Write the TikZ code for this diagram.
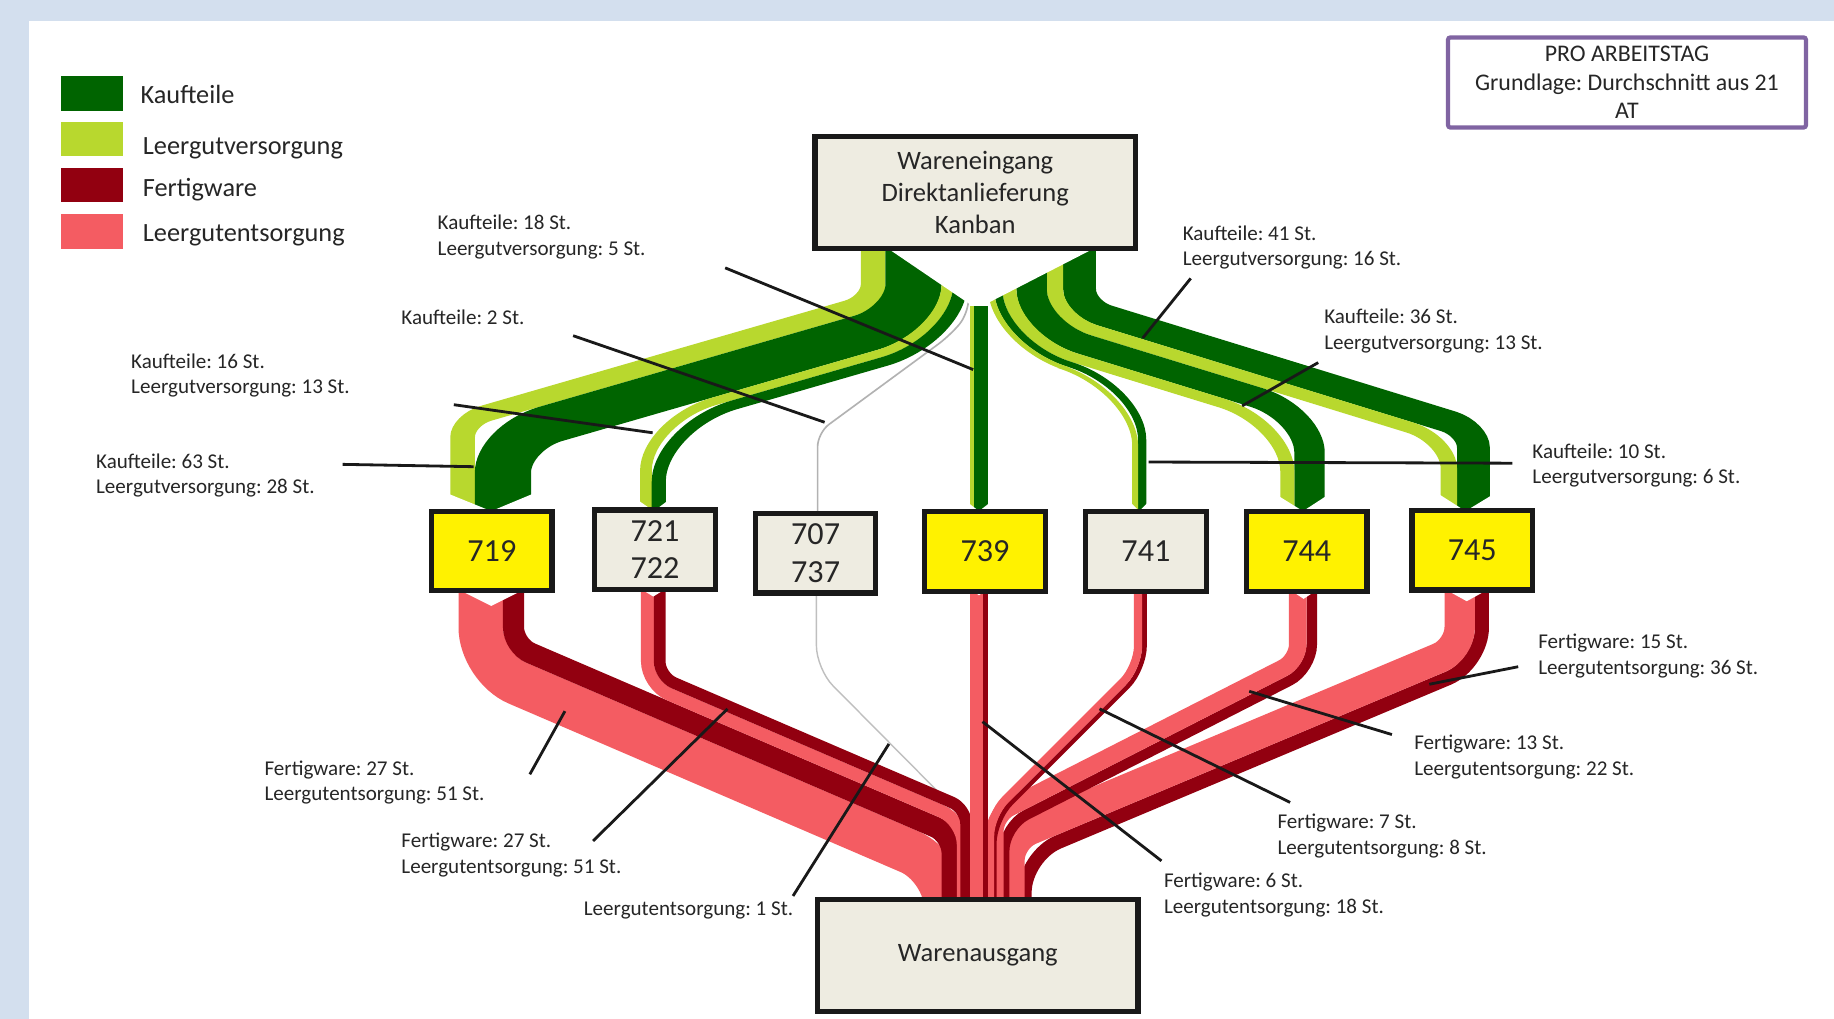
\documentclass[tikz,border=0pt]{standalone}
\usepackage{fontspec}
\setmainfont{Carlito}
\usepackage{xcolor}
\frenchspacing

\definecolor{kauf}{RGB}{0,100,0}
\definecolor{leerv}{RGB}{184,216,46}
\definecolor{fert}{RGB}{146,0,16}
\definecolor{leere}{RGB}{244,92,98}
\definecolor{bgblue}{RGB}{211,223,238}
\definecolor{boxfill}{RGB}{238,236,225}
\definecolor{lila}{RGB}{128,100,162}
\definecolor{txt}{RGB}{38,38,38}

\tikzset{
  kt/.style={draw=kauf},
  lv/.style={draw=leerv},
  fw/.style={draw=fert},
  le/.style={draw=leere},
  leader/.style={draw=black!90, line width=2.4pt},
  lab/.style={anchor=west, inner sep=0pt, align=left, text=txt, font=\fontsize{18}{22}\selectfont},
  station/.style={draw=black!90, line width=4.5pt, minimum width=103pt, minimum height=68pt, inner sep=0pt, align=center, text=txt, font=\fontsize{27.5}{32}\selectfont},
  lager/.style={draw=black!90, fill=boxfill, line width=4.5pt, minimum width=274pt, minimum height=96pt, inner sep=0pt, align=center, text=txt, font=\fontsize{22.7}{27}\selectfont},
  legtext/.style={anchor=base west, inner sep=0pt, text=txt, font=\fontsize{22.5}{27}\selectfont}
}

\begin{document}
\begin{tikzpicture}[x=1pt,y=1pt,yscale=-1,xscale=1]
\useasboundingbox (0,0) rectangle (1568,871);

% Background
\fill[bgblue] (0,0) rectangle (1568,871);
\fill[white] (25,18) rectangle (1568,871);

% Green flows (drawn narrow, stretched sideways)
\begin{scope}[transform canvas={xshift=835pt,xscale=1.5,xshift=-835pt}]
% 719
\draw[lv, line width=14pt] (776.0,212) [rounded corners=14.5pt] -- (776.0,257.69) -- (542.0,359.13) [rounded corners=35.5pt] -- (542.0,437);
\draw[kt, line width=32pt] (799.0,212) [rounded corners=29.6pt] -- (799.0,272.79) -- (565.0,374.23) [rounded corners=20.4pt] -- (565.0,437);
% 721 / 722
\draw[lv, line width=6.67pt] (818.33,212) [rounded corners=42.3pt] -- (818.33,285.48) -- (646.5,359.97) [rounded corners=17.3pt] -- (646.5,437);
\draw[kt, line width=8pt] (825.67,212) [rounded corners=47.1pt] -- (825.67,290.30) -- (653.8,364.80) [rounded corners=12.5pt] -- (653.8,437);
% 745
\draw[kt, line width=18.67pt] (893.67,212) [rounded corners=15.6pt] -- (893.67,263.13) -- (1118.13,366.83) [rounded corners=21.5pt] -- (1118.13,437);
\draw[lv, line width=9.33pt] (879.67,212) [rounded corners=24.5pt] -- (879.67,272.08) -- (1104.13,375.78) [rounded corners=12.6pt] -- (1104.13,437);
% 744
\draw[kt, line width=17.33pt] (866.33,212) [rounded corners=33.1pt] -- (866.33,280.60) -- (1024.73,353.79) [rounded corners=20.3pt] -- (1024.73,437);
\draw[lv, line width=8pt] (853.67,212) [rounded corners=41.2pt] -- (853.67,288.71) -- (1012.07,361.89) [rounded corners=12.2pt] -- (1012.07,437);
% 741
\draw[kt, line width=4.67pt] (847.33,212) [rounded corners=45.2pt] -- (847.33,292.76) -- (929.33,330.64) [rounded corners=13.2pt] -- (929.33,437);
\draw[lv, line width=3.33pt] (843.33,212) [rounded corners=47.8pt] -- (843.33,295.32) -- (925.33,333.20) [rounded corners=10.7pt] -- (925.33,437);
\end{scope}

% 707 / 737 (Kaufteile 2 St.)
\draw[draw=gray!60, line width=1.4pt, rounded corners=12pt] (828,240) -- (828,268) -- (812,287) -- (699,370) -- (699,437);

% notch under Wareneingang
\fill[white] (757,211) -- (835,264) -- (938,211) -- cycle;

% 739
\draw[lv, line width=4pt] (831,262) -- (831,437);
\draw[kt, line width=12pt] (839,262) -- (839,437);

% Red flows, right side
\draw[fw, line width=12pt] (1267,505) [rounded corners=31.2pt] -- (1267,567.71) -- (876,731.93) [rounded corners=18pt] -- (876,769);
\draw[le, line width=26pt] (1248,505) [rounded corners=18.6pt] -- (1248,555.08) -- (863,716.78) [rounded corners=18pt] -- (863,769);
\draw[fw, line width=9pt] (1121.5,505) [rounded corners=21.1pt] -- (1121.5,572.16) -- (858.5,706.3) [rounded corners=18pt] -- (858.5,769);
\draw[le, line width=15pt] (1109.5,505) [rounded corners=13.8pt] -- (1109.5,564.82) -- (850.5,696.92) [rounded corners=18pt] -- (850.5,769);
\draw[fw, line width=4pt] (978.5,505) [rounded corners=20.3pt] -- (978.5,572.45) -- (850,700.95) [rounded corners=18pt] -- (850,769);
\draw[le, line width=7pt] (973,505) [rounded corners=18pt] -- (973,570.17) -- (846.5,696.67) [rounded corners=18pt] -- (846.5,769);

% 707 / 737 (Leergutentsorgung 1 St.)
\draw[draw=gray!50, line width=1.2pt, rounded corners=20pt] (698,509) -- (698,572) -- (815,690) -- (830,769);

% Red flows, left side
\draw[le, line width=38pt] (411,505) [rounded corners=34.2pt] -- (411,570.5) -- (809,741.64) [rounded corners=18pt] -- (809,769);
\draw[fw, line width=18pt] (439,505) [rounded corners=15.8pt] -- (439,552.06) -- (814,713.31) [rounded corners=20pt] -- (814,769);
\draw[le, line width=11pt] (553.5,505) [rounded corners=20.1pt] -- (553.5,585.52) -- (823.5,701.62) [rounded corners=20pt] -- (823.5,769);
\draw[fw, line width=10pt] (564,505) [rounded corners=13.2pt] -- (564,578.6) -- (826,691.26) [rounded corners=20pt] -- (826,769);

% 739 red
\draw[le, line width=11.4pt] (835.1,505) -- (835.1,769);
\draw[fw, line width=3.9pt] (842.75,505) -- (842.75,769);

% arrow tips into the stations
\foreach \l/\c/\r/\d in {383/420/456/14, 546/559/571/8, 828/837/846/6, 967/974/981/6, 1093/1114/1134/12, 1231/1253/1276/13}
  \fill[white] (\l,436-\d) -- (\c,437) -- (\r,436-\d) -- (\r,441) -- (\l,441) -- cycle;
% tails below the stations
\foreach \l/\c/\r/\d in {390/420/450/13, 547/558.5/570/5, 829/837/845/4, 969/975/981/3, 1101/1114.5/1128/7, 1234/1254/1274/9}
  \fill[white] (\l,503) -- (\c,505+\d) -- (\r,503) -- cycle;

% Boxes
\node[lager] (weg) at (833.8,164.6) {Wareneingang\\Direktanlieferung\\Kanban};
\node[lager] (wag) at (836,816.8) {Warenausgang};
\node[station, fill=yellow] (s719) at (420.5,471) {719};
\node[station, fill=boxfill] (s721) at (560,470) {721\\722};
\node[station, fill=boxfill] (s707) at (697.3,473) {707\\737};
\node[station, fill=yellow] (s739) at (842.2,471.5) {739};
\node[station, fill=boxfill] (s741) at (979.7,471.5) {741};
\node[station, fill=yellow] (s744) at (1117.2,471.5) {744};
\node[station, fill=yellow] (s745) at (1258.7,470.5) {745};

% Info box
\node[draw=lila, line width=3.6pt, rounded corners=2pt, minimum width=306pt, minimum height=77pt, inner sep=0pt, align=center, text=txt, font=\fontsize{20.4}{24.5}\selectfont] (info) at (1391,70.5) {PRO ARBEITSTAG\\Grundlage: Durchschnitt aus 21\\AT};

% Legend
\fill[kauf] (52,65) rectangle (105,95);
\fill[leerv] (52,104) rectangle (105,133);
\fill[fert] (52,144) rectangle (105,173);
\fill[leere] (52,183) rectangle (105,213);
\node[legtext] (lg1) at (120,88.3) {Kaufteile};
\node[legtext] (lg2) at (122,131.7) {Leergutversorgung};
\node[legtext] (lg3) at (122,168.2) {Fertigware};
\node[legtext] (lg4) at (122,206.6) {Leergutentsorgung};

% Text Node
\node[lab] (l18) at (374,202.5) {Kaufteile: 18 St.\\Leergutversorgung: 5 St.};
\node[lab] (l2) at (343,271) {Kaufteile: 2 St.};
\node[lab] (l16) at (112,321) {Kaufteile: 16 St.\\Leergutversorgung: 13 St.};
\node[lab] (l63) at (82,406.5) {Kaufteile: 63 St.\\Leergutversorgung: 28 St.};
\node[lab] (l41) at (1011,211.5) {Kaufteile: 41 St.\\Leergutversorgung: 16 St.};
\node[lab] (l36) at (1132,283) {Kaufteile: 36 St.\\Leergutversorgung: 13 St.};
\node[lab] (l10) at (1310,398) {Kaufteile: 10 St.\\Leergutversorgung: 6 St.};
\node[lab] (l15) at (1315,561) {Fertigware: 15 St.\\Leergutentsorgung: 36 St.};
\node[lab] (l13) at (1209,647) {Fertigware: 13 St.\\Leergutentsorgung: 22 St.};
\node[lab] (l7) at (1092,715) {Fertigware: 7 St.\\Leergutentsorgung: 8 St.};
\node[lab] (l6) at (995,765) {Fertigware: 6 St.\\Leergutentsorgung: 18 St.};
\node[lab] (l27a) at (226,669) {Fertigware: 27 St.\\Leergutentsorgung: 51 St.};
\node[lab] (l27b) at (343,731) {Fertigware: 27 St.\\Leergutentsorgung: 51 St.};
\node[lab] (l1) at (499,778) {Leergutentsorgung: 1 St.};

% Leader lines
\coordinate (a18) at (620,229);   \coordinate (b18) at (832,316);
\coordinate (a2) at (490,287);    \coordinate (b2) at (705,361);
\coordinate (a16) at (388,346);   \coordinate (b16) at (558,370);
\coordinate (a63) at (293,397);   \coordinate (b63) at (405,399);
\coordinate (a41) at (1018,238);  \coordinate (b41) at (977,289);
\coordinate (a36) at (1127,310);  \coordinate (b36) at (1062,347);
\coordinate (a10) at (1293,396);  \coordinate (b10) at (982,395);
\coordinate (a15) at (1298,570);  \coordinate (b15) at (1222,585);
\coordinate (a13) at (1190,628);  \coordinate (b13) at (1068,591);
\coordinate (a7) at (1103,686);   \coordinate (b7) at (940,606);
\coordinate (a6) at (993,736);    \coordinate (b6) at (840,617);
\coordinate (a27a) at (453,662);  \coordinate (b27a) at (483,608);
\coordinate (a27b) at (507,719);  \coordinate (b27b) at (622,606);
\coordinate (a1) at (678,766);    \coordinate (b1) at (760,636);
\draw[leader] (a18) -- (b18);
\draw[leader] (a2) -- (b2);
\draw[leader] (a16) -- (b16);
\draw[leader] (a63) -- (b63);
\draw[leader] (a41) -- (b41);
\draw[leader] (a36) -- (b36);
\draw[leader] (a10) -- (b10);
\draw[leader] (a15) -- (b15);
\draw[leader] (a13) -- (b13);
\draw[leader] (a7) -- (b7);
\draw[leader] (a6) -- (b6);
\draw[leader] (a27a) -- (b27a);
\draw[leader] (a27b) -- (b27b);
\draw[leader] (a1) -- (b1);

\end{tikzpicture}
\end{document}
